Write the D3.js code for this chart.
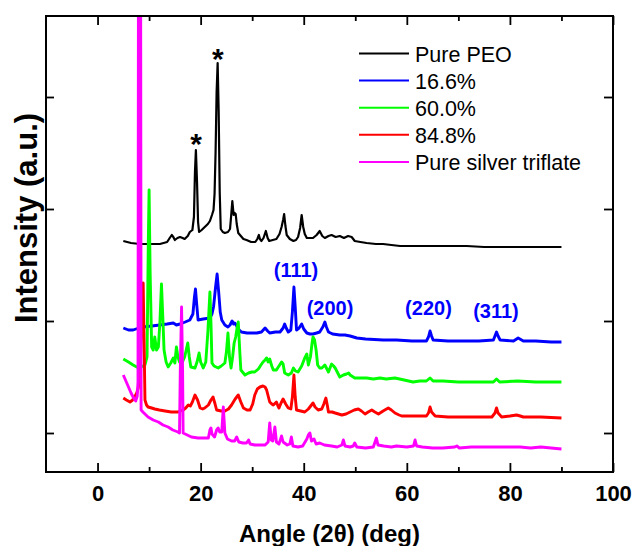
<!DOCTYPE html>
<html><head><meta charset="utf-8">
<script src="https://cdn.jsdelivr.net/npm/d3@7"></script>
<style>
body{margin:0;background:#fff;}
svg{display:block;font-family:"Liberation Sans",Arial,Helvetica,sans-serif;}
</style></head>
<body><svg id="chart" width="633" height="546"></svg>
<script>
// ---- data (2θ in degrees, intensity in arbitrary units) ----
const seriesNames = ["Pure PEO","16.6%","60.0%","84.8%","Pure silver triflate"];
const seriesColors = ["#000000","#0000ff","#00ff00","#ff0000","#ff00ff"];

const purePEO = [[5,231],[6.5,229],[8.2,228],[10,228],[12.1,228],[13.5,230],[14.0,234],[14.4,237],[14.7,235],[15.0,232],[15.5,234],[16.0,235],[16.5,234],[16.9,233],[17.5,236],[17.9,240],[18.4,242],[18.7,255],[18.9,300],[19.08,322],[19.3,290],[19.5,250],[19.7,240],[20.2,242],[20.8,245],[21.4,248],[21.8,251],[22.2,257],[22.5,262],[22.7,278],[22.9,320],[23.1,380],[23.3,409],[23.5,360],[23.7,280],[23.9,243],[24.3,240],[24.7,239],[25.3,240],[25.7,243],[25.9,255],[26.15,271],[26.4,257],[26.6,259],[26.8,258],[27.0,248],[27.3,239],[27.8,236],[28.3,233],[28.9,232],[29.8,230],[30.6,230],[31.0,233],[31.3,237],[31.5,233],[31.8,231],[32.2,234],[32.65,241],[33.0,234],[33.3,231],[34.0,232],[34.7,233],[35.3,238],[35.7,245],[36.0,252],[36.2,258],[36.45,246],[36.7,237],[37.3,233],[38.0,231],[38.5,232],[38.9,235],[39.3,244],[39.6,257],[39.9,245],[40.2,238],[40.6,234],[41.2,234],[41.8,234],[42.5,237],[43.1,241],[43.6,236],[44.1,234],[44.8,236],[45.4,237],[46.2,235],[47.0,236],[47.8,234],[48.6,236],[49.3,235],[49.9,231],[51,230],[52.2,229],[54,228],[55.4,228],[57,227],[58.7,226],[62,226],[65.1,226],[68,226],[71.6,226],[75,225],[78.1,225],[82,225],[86,225],[90,225]];

const pct16_6 = [[5,144],[6,142],[6.9,142],[8,144],[8.85,145],[10.5,146],[12.1,147],[13.5,148],[14.7,149],[15.3,147],[16,148],[17,150],[17.9,152],[18.5,158],[18.8,175],[19.0,183],[19.2,170],[19.5,152],[20.5,153],[21.8,154],[22.2,158],[22.5,165],[22.9,185],[23.2,198],[23.5,180],[23.8,160],[24.1,152],[24.7,147],[25.3,145],[25.7,147],[26.1,151],[26.4,148],[26.6,149],[26.9,147],[27.3,143],[27.9,140],[29,139],[30.9,139],[31.8,140],[32.5,144],[33,141],[33.4,139],[34.5,140],[35.4,140],[36.0,144],[36.3,148],[36.6,144],[37.0,140],[37.5,142],[37.8,160],[38.1,185],[38.35,165],[38.6,142],[39.1,144],[39.6,148],[40.0,143],[40.6,139],[41.2,138],[41.8,138],[42.5,139],[43.1,140],[43.7,145],[44.1,150],[44.4,145],[44.8,140],[45.6,138],[47.0,137],[48,137],[49.0,136],[50.3,134],[52,133],[55.4,132],[58,132],[61,131],[63.8,131],[64.2,135],[64.5,141],[64.8,136],[65.1,132],[68,131],[71.6,131],[74,131],[76.8,132],[77.1,136],[77.4,140],[77.7,136],[78.1,132],[80.7,131],[81.6,134],[82.6,131],[85,131],[88,130],[90,130]];

const pct60_0 = [[5,113],[6,110],[6.9,107],[7.6,105],[8.2,104],[8.8,106],[9.2,107],[9.6,115],[9.85,230],[10.0,282],[10.2,200],[10.5,125],[10.8,122],[11.1,135],[11.45,122],[11.8,125],[12.1,150],[12.4,188],[12.7,150],[12.9,122],[13.3,110],[13.7,105],[14.2,109],[14.7,114],[15.0,109],[15.3,125],[15.6,115],[15.9,110],[16.3,108],[16.9,115],[17.2,122],[17.5,129],[17.8,115],[18.1,105],[18.9,104],[19.3,110],[19.7,119],[20.0,110],[20.5,104],[21.0,110],[21.4,140],[21.8,180],[22.0,150],[22.2,109],[22.6,106],[23.4,104],[24.0,106],[24.7,109],[25.0,120],[25.3,139],[25.6,115],[25.9,104],[26.2,115],[26.5,129],[26.8,135],[27.1,145],[27.3,150],[27.6,120],[27.8,102],[28.6,97],[29.3,99],[29.9,100],[30.5,100],[31.2,103],[31.7,107],[32.1,110],[32.5,112],[32.8,114],[33.1,110],[33.4,113],[33.8,106],[34.1,102],[34.7,102],[35.2,106],[35.7,110],[36.0,108],[36.3,99],[37.0,97],[37.6,99],[38.0,104],[38.4,101],[38.9,100],[39.6,106],[40.2,114],[40.6,118],[40.9,107],[41.3,115],[41.6,128],[41.8,135],[42.1,132],[42.4,122],[42.7,107],[43.1,104],[43.5,104],[44.1,107],[44.5,103],[44.8,100],[45.4,108],[45.8,106],[46.1,104],[46.6,99],[47.0,95],[47.7,97],[48.3,98],[48.7,99],[49.0,97],[49.9,94],[51,94],[52.2,94],[53.5,93],[54.8,94],[56,93],[57.7,94],[59.5,92],[61.2,90],[62.5,91],[63.8,91],[64.5,94],[65.1,91],[67,91],[70,90],[74.2,90],[76.8,90],[77.4,93],[78.0,90],[81.5,91],[85,90],[90,90]];

const pct84_8 = [[5,74],[5.6,72],[6.3,70],[6.8,72],[7.2,75],[7.6,79],[7.9,84],[8.3,100],[8.55,160],[8.85,189],[9.0,140],[9.2,72],[9.5,67],[9.8,65],[10.5,64],[11.1,63],[12,62],[13.1,61],[14.3,60],[15.6,60],[16.6,62],[17.1,64],[17.6,67],[18.0,66],[18.4,70],[18.9,77],[19.4,72],[19.9,64],[20.4,63],[20.8,64],[21.5,67],[22.0,72],[22.4,75],[22.8,68],[23.1,62],[24,61],[24.7,61],[25.4,63],[26.0,67],[26.7,73],[27.3,77],[27.8,70],[28.3,64],[29.0,62],[29.6,62],[30.1,68],[30.5,77],[31.0,83],[31.5,85],[32.1,86],[32.5,85],[32.8,82],[33.1,76],[33.4,70],[33.8,68],[34.1,67],[34.7,70],[35.0,66],[35.2,64],[35.6,69],[36.0,73],[36.5,68],[37.0,64],[37.5,63],[37.8,75],[38.1,97],[38.35,75],[38.6,62],[39.4,61],[40.2,60],[40.9,63],[41.5,67],[41.8,69],[42.2,65],[42.8,62],[43.5,63],[43.9,68],[44.3,74],[44.6,66],[44.8,60],[45.5,60],[46.1,59],[47.4,57],[48.2,58],[49.0,60],[49.8,62],[50.6,63],[51.2,61],[51.9,58],[52.5,60],[53.2,62],[53.8,60],[54.5,58],[55.4,61],[56.4,64],[57.0,62],[57.7,59],[58.5,57],[59.0,56],[61,56],[63.8,56],[64.2,59],[64.5,65],[64.8,60],[65.5,56],[68,55],[72.3,55],[74.2,55],[76.5,55],[77.1,59],[77.4,64],[77.7,59],[78.4,55],[80,56],[81.3,57],[82.0,56],[82.6,55],[86,55],[90,54]];

const silverTriflate = [[5,97],[5.5,91],[6,85],[6.5,79],[7,74],[7.4,71],[7.7,76],[7.85,90],[8.15,1500],[8.45,62],[8.8,60],[9.8,55],[10.8,52],[11.8,50],[12.7,47],[13.7,45],[14.6,42],[15.6,40],[15.9,39],[16.05,100],[16.3,165],[16.5,100],[16.6,39],[17.4,37],[18.2,35],[19.5,34],[20.8,34],[21.5,34],[21.8,42],[22.0,44],[22.2,38],[22.7,35],[23.1,42],[23.4,44],[23.7,40],[24.1,40],[24.4,65],[24.7,39],[25.2,33],[26.0,31],[26.6,31],[27.0,35],[27.4,30],[28.2,29],[28.9,29],[29.3,32],[29.6,28],[30.5,27],[31.5,27],[32.5,27],[33.1,30],[33.4,49],[33.7,32],[34.0,31],[34.4,45],[34.7,30],[35.2,28],[35.7,36],[36.0,30],[36.8,27],[37.3,28],[37.6,35],[37.9,26],[38.9,25],[39.8,26],[40.6,33],[40.9,37],[41.2,39],[41.5,31],[42.0,33],[42.4,28],[43.1,29],[44,27],[45.4,26],[46.5,25],[47.4,27],[47.7,32],[48.0,26],[49.0,25],[49.6,26],[49.9,29],[50.3,25],[52,24],[53.5,25],[53.9,31],[54.1,34],[54.4,27],[55.5,26],[57,25],[58,26],[60,25],[61.3,26],[61.6,32],[61.9,26],[63,25],[65,24],[67,24],[69.3,25],[69.7,26],[70.2,24],[72.5,25],[75.5,25],[78,25],[80.5,25],[82,25],[84,24],[86,25],[88,24],[90,23]];

const allSeries = [purePEO, pct16_6, pct60_0, pct84_8, silverTriflate];

const xMajorTicks = [0,20,40,60,80,100];
const xMinorTicks = [10,30,50,70,90];
const yTicks = [39,151,263,375];

const starLabels = ["*","*"];
const starAt = [[19.1,334],[23.35,419]];
const peakLabels = ["(111)","(200)","(220)","(311)"];
const peakAt = [[38.5,195],[45.1,157],[64.2,157],[77.3,154]];

// ---- layout ----
const M = {left:46, top:16, right:613, bottom:472};
const svg = d3.select("#chart");
const x = d3.scaleLinear().domain([-10,100]).range([M.left, M.right]);
const y = d3.scaleLinear().domain([0,456]).range([M.bottom, M.top]);

svg.append("defs").append("clipPath").attr("id","plotclip")
  .append("rect").attr("x",M.left).attr("y",M.top)
  .attr("width",M.right-M.left).attr("height",M.bottom-M.top);

const line = d3.line().x(d=>x(d[0])).y(d=>y(d[1]));
const g = svg.append("g").attr("clip-path","url(#plotclip)");
allSeries.forEach((s,i)=>{
  g.append("path").datum(s).attr("d",line)
    .attr("fill","none").attr("stroke",seriesColors[i])
    .attr("stroke-width", i===0 ? 2.2 : 2.9)
    .attr("stroke-linejoin","round");
});

// axes
function styleAxis(sel){
  sel.select(".domain").remove();
  sel.selectAll(".tick line").attr("stroke","#000").attr("stroke-width",1.8);
  sel.selectAll(".tick text").attr("fill","#000")
    .style("font-size","22px").style("font-weight","bold")
    .style("font-family",'"Liberation Sans",Arial,sans-serif');
}
svg.append("g").attr("transform",`translate(0,${M.bottom})`)
  .call(d3.axisBottom(x).tickValues(xMajorTicks).tickSize(-9).tickSizeOuter(0).tickPadding(13).tickFormat(d3.format("d")))
  .call(styleAxis);
svg.append("g").attr("transform",`translate(0,${M.bottom})`)
  .call(d3.axisBottom(x).tickValues(xMinorTicks).tickSize(-5).tickSizeOuter(0).tickFormat(""))
  .call(styleAxis);
svg.append("g").attr("transform",`translate(0,${M.top})`)
  .call(d3.axisTop(x).tickValues(xMajorTicks).tickSize(-9).tickSizeOuter(0).tickFormat(""))
  .call(styleAxis);
svg.append("g").attr("transform",`translate(0,${M.top})`)
  .call(d3.axisTop(x).tickValues(xMinorTicks).tickSize(-5).tickSizeOuter(0).tickFormat(""))
  .call(styleAxis);
svg.append("g").attr("transform",`translate(${M.left},0)`)
  .call(d3.axisLeft(y).tickValues(yTicks).tickSize(-8).tickSizeOuter(0).tickFormat(""))
  .call(styleAxis);
svg.append("g").attr("transform",`translate(${M.right},0)`)
  .call(d3.axisRight(y).tickValues(yTicks).tickSize(-9).tickSizeOuter(0).tickFormat(""))
  .call(styleAxis);

svg.append("rect").attr("x",M.left).attr("y",M.top)
  .attr("width",M.right-M.left).attr("height",M.bottom-M.top)
  .attr("fill","none").attr("stroke","#000").attr("stroke-width",2);

// titles
svg.append("text").attr("x",(M.left+M.right)/2).attr("y",542)
  .attr("text-anchor","middle").style("font-size","24px").style("font-weight","bold")
  .text("Angle (2θ) (deg)");
svg.append("text").attr("transform","translate(37,218) rotate(-90)")
  .attr("text-anchor","middle").style("font-size","31px").style("font-weight","bold")
  .text("Intensity (a.u.)");

// annotations
starLabels.forEach((t,i)=>{
  svg.append("text").attr("x",x(starAt[i][0])).attr("y",y(starAt[i][1])+16)
    .attr("text-anchor","middle").style("font-size","30px").style("font-weight","bold")
    .text(t);
});
peakLabels.forEach((t,i)=>{
  svg.append("text").attr("x",x(peakAt[i][0])).attr("y",y(peakAt[i][1]))
    .attr("text-anchor","middle").attr("fill","#0000ff")
    .style("font-size","20px").style("font-weight","bold").text(t);
});

// legend
const lg = svg.append("g");
seriesNames.forEach((n,i)=>{
  const cy = 53.5 + i*27.1;
  lg.append("line").attr("x1",359).attr("x2",409).attr("y1",cy).attr("y2",cy)
    .attr("stroke",seriesColors[i]).attr("stroke-width",2);
  lg.append("text").attr("x",415).attr("y",cy+8).style("font-size","21.5px").text(n);
});
</script></body></html>
